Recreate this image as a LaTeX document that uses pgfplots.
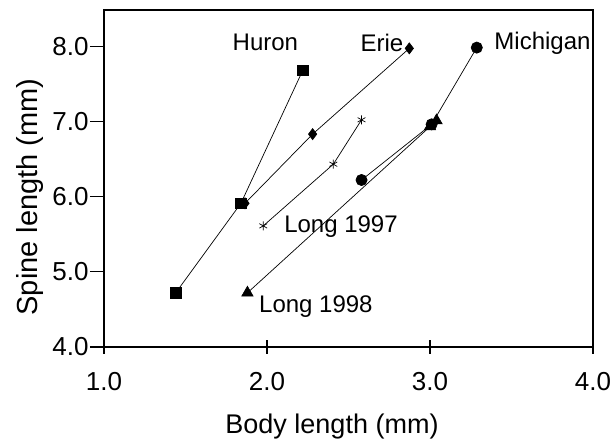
\documentclass[border=0pt]{standalone}
\usepackage{fontspec}
\setmainfont{Liberation Sans}
\usepackage{pgfplots}
\pgfplotsset{compat=1.18}
\begin{document}
\begin{tikzpicture}
\begin{axis}[
  at={(0,0)}, anchor=south west,
  scale only axis, width=489pt, height=337pt,
  xmin=1, xmax=4, ymin=4, ymax=8.48,
  xtick={1,2,3,4}, ytick={4,5,6,7,8},
  xtick pos=bottom, ytick pos=left,
  /pgf/number format/.cd, fixed, fixed zerofill, precision=1, assume math mode=true,
  /pgfplots/.cd,
  tick label style={font=\fontsize{26}{30}\selectfont, black},
  xticklabel style={yshift=-8pt},
  yticklabel style={xshift=2pt},
  axis line style={line width=1.6pt},
  tick style={line width=1.2pt, black},
  tick align=outside,
  major tick length=14pt,
  major x tick style={yshift=7pt},
  clip=false,
]
\addplot[black, line width=0.7pt, mark=triangle*, mark size=6.5pt] coordinates {(1.88,4.72) (3.0,6.93) (3.04,7.01)};
\addplot[black, line width=0.7pt, mark=square*, mark size=5.2pt] coordinates {(1.44,4.72) (1.84,5.91) (2.22,7.68)};
\addplot[black, line width=0.7pt, mark=diamond*, mark size=5.5pt] coordinates {(1.865,5.91) (2.28,6.83) (2.873,7.97)};
\addplot[black, line width=0.7pt, mark=asterisk, mark size=4.5pt, mark options={line width=0.7pt}] coordinates {(1.977,5.61) (2.407,6.43) (2.58,7.02)};
\addplot[black, line width=0.7pt, mark=*, mark size=5.6pt] coordinates {(2.58,6.22) (3.01,6.96) (3.287,7.98)};
\node[font=\fontsize{24}{28}\selectfont] at (axis cs:1.99,8.05) {Huron};
\node[font=\fontsize{24}{28}\selectfont] at (axis cs:2.705,8.04) {Erie};
\node[font=\fontsize{24}{28}\selectfont] at (axis cs:3.69,8.04) {Michigan};
\node[font=\fontsize{24}{28}\selectfont] at (axis cs:2.454,5.60) {Long 1997};
\node[font=\fontsize{24}{28}\selectfont] at (axis cs:2.30,4.54) {Long 1998};
\end{axis}
\node[font=\fontsize{27}{31}\selectfont] at (228pt,-80pt) {Body length (mm)};
\node[font=\fontsize{29}{33}\selectfont, rotate=90] at (-74pt,150pt) {Spine length (mm)};
\pgfresetboundingbox
\path (-104pt,-97pt) rectangle (510pt,347pt);
\end{tikzpicture}
\end{document}
